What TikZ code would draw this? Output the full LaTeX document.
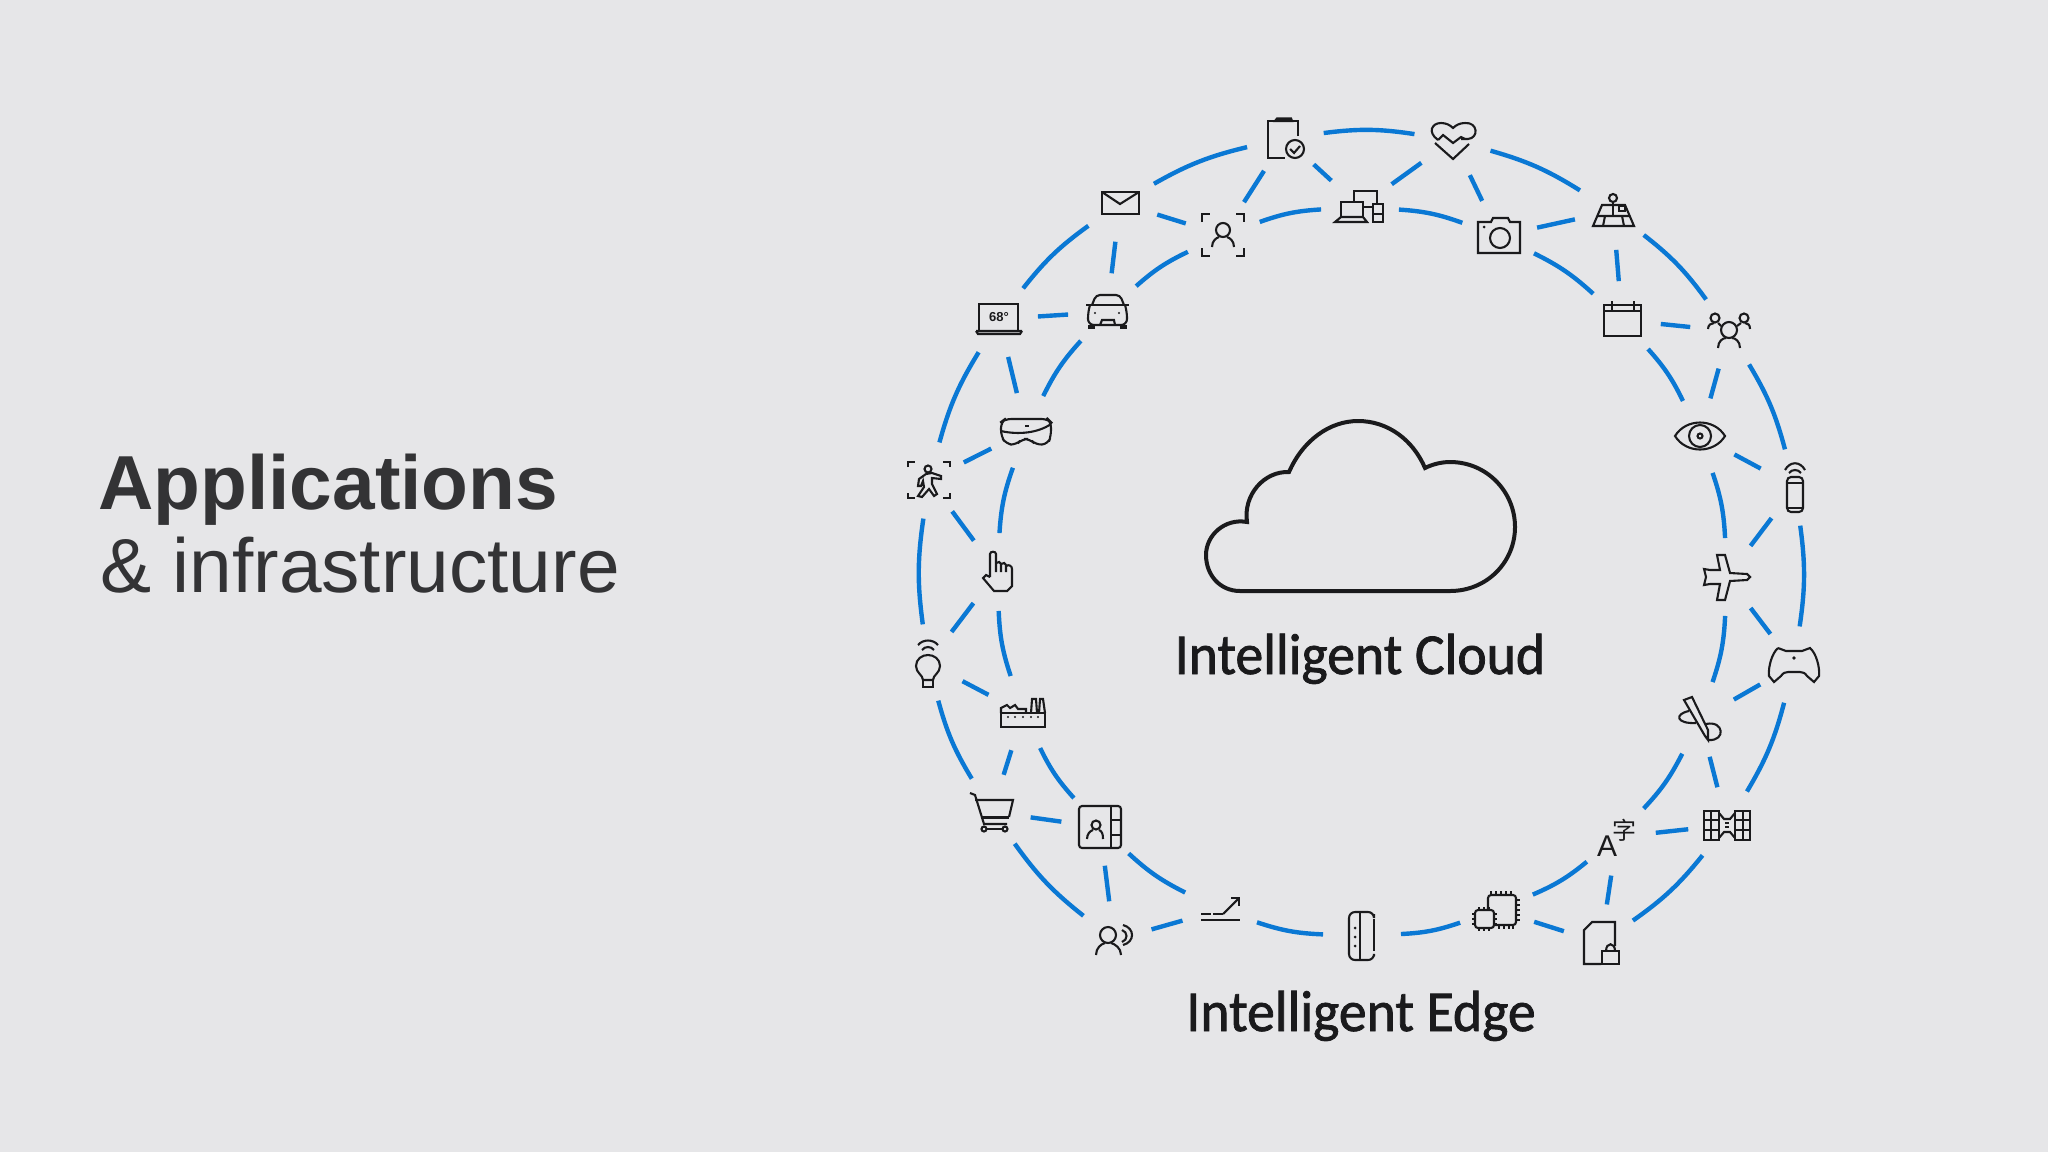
\documentclass[tikz,border=0pt]{standalone}
\usepackage{fontspec}
\setmainfont{Liberation Sans}
\newfontfamily\capfont[FakeBold=1.3,FakeStretch=0.96]{Carlito}
\newfontfamily\cjkfont{Noto Sans CJK SC}
\definecolor{bgclr}{RGB}{230,230,232}
\definecolor{ringclr}{RGB}{10,120,212}
\definecolor{icoclr}{RGB}{26,26,28}
\definecolor{hdrclr}{RGB}{51,51,53}
\tikzset{
  hub/.style={circle,minimum size=39pt,inner sep=0pt,outer sep=0pt},
  lnk/.style={line width=2.2pt,color=ringclr},
  ico/.style={draw=icoclr,line width=1.05pt,line join=miter},
  dotfill/.style={fill=icoclr,draw=none},
  caplbl/.style={font=\capfont\fontsize{29}{32}\selectfont,text=icoclr,anchor=base,inner sep=0pt},
  hdr/.style={font=\fontsize{38.3}{44}\selectfont,text=hdrclr,anchor=base west,inner sep=0pt},
  icoclip/.pic={
    \draw[ico] (13,-2)--(13,-17)--(7,-17) (-10,-17)--(-17,-17)--(-17,20)--(0,20);
    \draw[ico] (-10,-17)--(-8,-19.5)--(6,-19.5)--(7,-17)--cycle;
    \draw[ico] (10,11) circle (9);
    \draw[ico] (5,11)--(9,15)--(15,8);},
  icohrt/.pic={
    \draw[ico] (-15,0) .. controls (-26,-8) and (-21,-17) .. (-12,-17) .. controls (-7,-17) and (-3,-15) .. (0,-12)
      .. controls (3,-15) and (7,-17) .. (12,-17) .. controls (25,-18) and (26,-2) .. (15,-1)--(8,-1);
    \draw[ico] (-15,0)--(-10,-5)--(0,3)--(8,-3)--(12,-1);
    \draw[ico] (-18,3)--(0,19)--(16,4);},
  icomap/.pic={
    \draw[ico] (0,-13) circle (4);
    \draw[ico] (0,-9)--(0,5);
    \draw[ico] (-11,-6)--(12,-6)--(21,15)--(-20,15)--cycle;
    \draw[ico] (-16,5)--(16,5) (-8,5)--(-10,15) (9,5)--(11,15);
    \draw[ico] (6,-5) rectangle (12,0);},
  icoppl/.pic={
    \draw[ico] (0,-1) circle (8);
    \draw[ico] (-11,17) .. controls (-11,10) and (-6,7) .. (-3,7) (3,7) .. controls (6,7) and (11,10) .. (11,17);
    \draw[ico] (-14,-13) circle (4.5);
    \draw[ico] (15,-13) circle (4.5);
    \draw[ico] (-21,-2) .. controls (-21,-6) and (-18,-8) .. (-15,-8) (-11,-8)--(-8,-5);
    \draw[ico] (21,-2) .. controls (21,-6) and (19,-8) .. (16,-8) (12,-8)--(8,-5);},
  icospk/.pic={
    \draw[ico] (-10,-17) .. controls (-5,-26) and (5,-26) .. (10,-17);
    \draw[ico] (-6,-14) .. controls (-3,-18) and (3,-18) .. (6,-14);
    \draw[ico,rounded corners=2pt] (-8,-10) rectangle (8,25);
    \draw[ico] (-8,-4)--(8,-4) (-8,21)--(8,21);},
  icopad/.pic={
    \draw[ico] (-16,-17)--(-8,-14)--(8,-14)--(16,-17) .. controls (22,-12) and (26,2) .. (25,11)--(20,17)--(13,11)
      .. controls (11,8) and (9,7) .. (6,7)--(-6,7) .. controls (-9,7) and (-11,8) .. (-13,11)--(-20,17)--(-25,11)
      .. controls (-26,2) and (-22,-12) .. (-16,-17);
    \fill[dotfill] (0,-7) circle (1.8);},
  icosat/.pic={
    \draw[ico] (-23,-14) rectangle (-8,15);
    \draw[ico] (8,-14) rectangle (23,15);
    \draw[ico,line width=0.8pt] (-16,-14)--(-16,15) (-23,-5)--(-8,-5) (-23,5)--(-8,5);
    \draw[ico,line width=0.8pt] (16,-14)--(16,15) (8,-5)--(23,-5) (8,5)--(23,5);
    \draw[ico] (-8,-12)--(-3,-6)--(3,-6)--(8,-12) (-8,13)--(-3,7)--(3,7)--(8,13);
    \draw[ico,line width=0.8pt] (-2,-2)--(2,-2) (-2,2)--(2,2);},
  icolockd/.pic={
    \draw[ico] (14,3)--(14,-21)--(-9,-21)--(-17,-13)--(-17,21)--(0,21);
    \draw[ico] (1,8) rectangle (18,21);
    \draw[ico] (5,8) .. controls (5,-1) and (14,-1) .. (14,8);},
  icochip/.pic={
    \draw[ico,rounded corners=1.5pt] (-9,0)--(-9,-15)--(19,-15)--(19,15)--(-3,15);
    \draw[ico,rounded corners=1.5pt] (-22,0) rectangle (-3,18);
    \foreach \t in {-6,-1,4,9,14} \draw[ico,line width=0.7pt] (\t,-15)--(\t,-19);
    \foreach \t in {2,7,12,16} \draw[ico,line width=0.7pt] (\t,15)--(\t,19);
    \foreach \t in {-10,-5,0,5,10} \draw[ico,line width=0.7pt] (19,\t)--(23,\t);
    \foreach \t in {4,9,14} \draw[ico,line width=0.7pt] (-22,\t)--(-25,\t) (-3,\t)--(0,\t);
    \foreach \t in {-18,-13,-8} \draw[ico,line width=0.7pt] (\t,18)--(\t,21) (\t,0)--(\t,-3);},
  icodev/.pic={
    \draw[ico,rounded corners=3pt] (12,-22)--(12,-24)--(-13,-24)--(-13,24)--(12,24)--(12,20);
    \draw[ico] (-2,-24)--(-2,24);
    \draw[ico] (12,-17)--(12,15);
    \foreach \t in {-8,1,10} \fill[dotfill] (-7,\t) circle (1.5);},
  icoarr/.pic={
    \draw[ico] (-19,10)--(20,10);
    \draw[ico,line width=1.3pt,dash pattern=on 5pt off 1pt] (-19,4)--(3,4);
    \draw[ico] (3,4)--(19,-12);
    \draw[ico] (11,-12)--(19,-12)--(19,-4);},
  icovoc/.pic={
    \draw[ico] (-6,-5) circle (8);
    \draw[ico] (-18,15) .. controls (-18,8) and (-13,4) .. (-9,3) (-3,3) .. controls (1,4) and (7,8) .. (7,15);
    \draw[ico] (9,-15) .. controls (21,-12) and (21,2) .. (9,5);
    \draw[ico] (8,-10) .. controls (14,-8) and (14,0) .. (8,2);},
  icocart/.pic={
    \draw[ico] (-22,-19)--(-17,-17)--(-8,12)--(15,12);
    \draw[ico] (-17,-12)--(21,-12)--(17,5);
    \draw[ico,line width=1.5pt] (-11,5)--(17,5);
    \draw[ico] (-8,17) circle (2.5);
    \draw[ico] (13,17) circle (2.5);
    \draw[ico] (-5,17)--(10,17);},
  icobulb/.pic={
    \draw[ico] (-10,-18) .. controls (-5,-24) and (5,-24) .. (10,-18);
    \draw[ico] (-6,-13) .. controls (-3,-17) and (3,-17) .. (6,-13);
    \draw[ico] (-5,17) .. controls (-5,12) and (-12,10) .. (-12,3) .. controls (-12,-4) and (-6,-8) .. (0,-8)
      .. controls (6,-8) and (12,-4) .. (12,3) .. controls (12,10) and (5,12) .. (5,17)--cycle;
    \draw[ico] (-5,17)--(-5,24)--(5,24)--(5,17);},
  icorunr/.pic={
    \draw[ico] (-21,-13)--(-21,-18)--(-14,-18) (14,-18)--(21,-18)--(21,-13);
    \draw[ico] (-21,13)--(-21,18)--(-14,18) (14,18)--(21,18)--(21,13);
    \draw[ico] (-1,-11) circle (3.5);
    \draw[ico] (-3,-6)--(-10,-1)--(-11,6)--(-8,6)--(-6,1)--(-5,7)--(-11,16)--(-7,17)--(0,9)--(5,16)--(8,14)--(3,4)--(3,-2)--(12,-1)--(12,-4)--(3,-7)--cycle;},
  icolapt/.pic={
    \draw[ico] (-20,12)--(-20,-15)--(19,-15)--(19,12);
    \draw[ico] (-23,12)--(23,12) (-23,12)--(-21,15)--(21,15)--(23,12);
    \node[font=\bfseries\fontsize{6.5}{7}\selectfont,text=icoclr,inner sep=0pt] (lapttxt) at (0,-2) {68°};},
  icomail/.pic={
    \draw[ico] (-18,-11) rectangle (19,11);
    \draw[ico] (-18,-11)--(0,1)--(19,-11);},
  icoface/.pic={
    \draw[ico] (-21,-13)--(-21,-21)--(-13,-21) (13,-21)--(21,-21)--(21,-13);
    \draw[ico] (-21,13)--(-21,21)--(-13,21) (13,21)--(21,21)--(21,13);
    \draw[ico] (0,-5) circle (7);
    \draw[ico] (-11,12) .. controls (-11,6) and (-7,3) .. (-4,2) (4,2) .. controls (7,3) and (11,6) .. (11,12);},
  icodevs/.pic={
    \draw[ico] (-6,-5)--(-6,-16)--(17,-16)--(17,-3);
    \draw[ico] (3,0)--(13,0);
    \draw[ico] (-19,10)--(-19,-5)--(3,-5)--(3,10);
    \draw[ico] (-19,10)--(3,10)--(7,15)--(-25,15)--cycle;
    \draw[ico] (13,-3) rectangle (23,15);
    \draw[ico] (13,7)--(23,7);},
  icocam/.pic={
    \draw[ico] (-21,-14)--(-8,-14)--(-6,-18)--(9,-18)--(11,-14)--(21,-14)--(21,17)--(-21,17)--cycle;
    \draw[ico] (1,2) circle (10);
    \fill[dotfill] (-15,-9) circle (1.5);},
  icocal/.pic={
    \draw[ico] (-18,-15) rectangle (19,16);
    \draw[ico] (-18,-9)--(19,-9);
    \draw[ico,line width=0.7pt] (-10,-19)--(-10,-10) (12,-19)--(12,-10);},
  icoeye/.pic={
    \draw[ico] (-25,0) .. controls (-14,-18) and (14,-18) .. (25,0) .. controls (14,18) and (-14,18) .. (-25,0)--cycle;
    \draw[ico] (0,0) circle (11);
    \draw[ico] (0,0) circle (2.5);},
  icoplan/.pic={
    \draw[ico] (23,0)--(20,-3)--(3,-4)--(-2,-22)--(-10,-22)--(-7,-7)--(-17,-7)--(-23,-8)--(-21,0)
      --(-23,8)--(-17,7)--(-7,7)--(-10,23)--(-2,23)--(3,4)--(20,3)--cycle;},
  icopen/.pic={
    \draw[ico] (-16,-19)--(-8,-22)--(8,11)--(8,21)--(5,17)--cycle;
    \draw[ico] (-11,-8) .. controls (-26,-5) and (-24,5) .. (-4,4);
    \draw[ico] (6,5) .. controls (24,1) and (26,22) .. (9,21);},
  icotrans/.pic={
    \node[font=\fontsize{15}{16}\selectfont,text=icoclr,inner sep=0pt] (transa) at (-10,9) {A};
    \node[font=\cjkfont\fontsize{12}{13}\selectfont,text=icoclr,inner sep=0pt] (transz) at (7,-7) {字};},
  icocont/.pic={
    \draw[ico,rounded corners=1.5pt] (-21,-21) rectangle (21,21);
    \draw[ico] (11,-21)--(11,21) (11,-7)--(21,-7) (11,8)--(21,8);
    \draw[ico] (-4,-2) circle (4.5);
    \draw[ico] (-13,12) .. controls (-13,7) and (-10,4) .. (-7,3) (-1,3) .. controls (2,4) and (3,7) .. (3,12);},
  icofact/.pic={
    \draw[ico] (-22,14) rectangle (22,0);
    \draw[ico] (-22,0)--(-22,-5)--(-16,-8)--(-13,-5)--(-8,-8)--(-5,-4)--(3,-4)--(3,0);
    \draw[ico] (8,0)--(9,-14)--(13,-14)--(14,0) (16,0)--(17,-14)--(20,-14)--(22,0);
    \foreach \t in {-15,-8,0,8,15} \fill[dotfill] (\t,4) circle (1.2);},
  icohand/.pic={
    \draw[ico] (-7,5)--(-7,-18) .. controls (-7,-21) and (-1,-21) .. (-1,-18)--(-1,0);
    \draw[ico] (-1,-9) .. controls (1,-11) and (4,-10) .. (4,-8)--(4,0);
    \draw[ico] (4,-8) .. controls (6,-10) and (9,-9) .. (9,-7)--(9,0);
    \draw[ico] (9,-6) .. controls (12,-8) and (15,-6) .. (15,-3)--(15,14)--(10,19)--(-3,19)--(-14,6)--(-11,3)--(-7,5);},
  icoholo/.pic={
    \draw[ico,rounded corners=3pt] (-21,-12)--(22,-12)--(25,-9)--(25,5)--(22,13)--(10,14)--(4,8)--(-4,8)--(-10,14)--(-20,13)--(-25,5)--(-25,-9)--cycle;
    \draw[ico] (-25,0) .. controls (-8,4) and (12,2) .. (25,-7);
    \fill[dotfill] (-1,-6.5) rectangle (3,-4.5);},
  icocar/.pic={
    \draw[ico,rounded corners=2pt] (-15,-7)--(-11,-17)--(13,-17)--(17,-7);
    \draw[ico] (-21,-7)--(22,-7);
    \draw[ico,rounded corners=3pt] (-17,-7)--(-19,0)--(-19,13)--(20,13)--(20,0)--(18,-7);
    \draw[ico,line width=1.6pt] (-19,15)--(-12,15) (13,15)--(20,15);
    \draw[ico] (-7,13)--(-5,8)--(7,8)--(8,13);
    \fill[dotfill] (-12,1) circle (1.2) (12,1) circle (1.2);},
}
\begin{document}
\begin{tikzpicture}[x=0.5pt,y=-0.5pt]
  \fill[bgclr] (0,0) rectangle (2048,1152);
  \useasboundingbox (0,0) rectangle (2048,1152);

  \node[hdr,font=\bfseries\fontsize{38.3}{44}\selectfont] (apps) at (98,509) {Applications};
  \node[hdr] (infra) at (100,592) {\& infrastructure};

  \draw[icoclr,line width=2pt,line join=miter] (1240,591) .. controls (1220,591) and (1206,575) .. (1206,555)
    .. controls (1206,535) and (1225,518) .. (1247,522) .. controls (1243,495) and (1264,471) .. (1289,472)
    .. controls (1303,440) and (1330,421) .. (1358,421) .. controls (1388,421) and (1413,440) .. (1425,468)
    .. controls (1433,464) and (1442,462) .. (1450,462) .. controls (1487,462) and (1515,492) .. (1515,527)
    .. controls (1515,562) and (1487,591) .. (1450,591) -- cycle;
  \node[caplbl] (cloudlbl) at (1360,674) {Intelligent Cloud};
  \node[caplbl] (edgelbl) at (1361,1031) {Intelligent Edge};

  \foreach \n/\x/\y in {clip/1285/138,hrt/1453/140,map/1613/211,ppl/1729/331,spk/1795/487,pad/1794/665,
      sat/1727/825,lockd/1601/943,voc/1114/940,cart/992/812,bulb/928/663,runr/929/480,lapt/999/319,mail/1120/203,
      devs/1360/207,cam/1499/236,cal/1622/320,eye/1700/436,plan/1727/577,pen/1700/719,trans/1617/837,chip/1497/910,
      dev/1362/936,arr/1220/910,cont/1100/827,fact/1023/713,hand/997/572,holo/1026/431,car/1107/312,face/1223/235}{
    \node[hub] (\n) at (\x,\y) {};
    \pic at (\n) {ico\n};
  }

  \foreach \a/\b in {clip/hrt,hrt/map,map/ppl,ppl/spk,spk/pad,pad/sat,sat/lockd,voc/cart,cart/bulb,bulb/runr,runr/lapt,lapt/mail,mail/clip,
      devs/cam,cam/cal,cal/eye,eye/plan,plan/pen,pen/trans,trans/chip,chip/dev,dev/arr,arr/cont,cont/fact,fact/hand,hand/holo,holo/car,car/face,face/devs}
    \draw[lnk] (\a) to[bend left=8] (\b);
  \foreach \a/\b in {clip/face,clip/devs,hrt/devs,hrt/cam,map/cam,map/cal,ppl/cal,ppl/eye,spk/eye,spk/plan,pad/plan,pad/pen,sat/pen,sat/trans,
      lockd/trans,lockd/chip,voc/arr,voc/cont,cart/cont,cart/fact,bulb/fact,bulb/hand,runr/hand,runr/holo,lapt/holo,lapt/car,mail/car,mail/face}
    \draw[lnk] (\a)--(\b);
\end{tikzpicture}
\end{document}
